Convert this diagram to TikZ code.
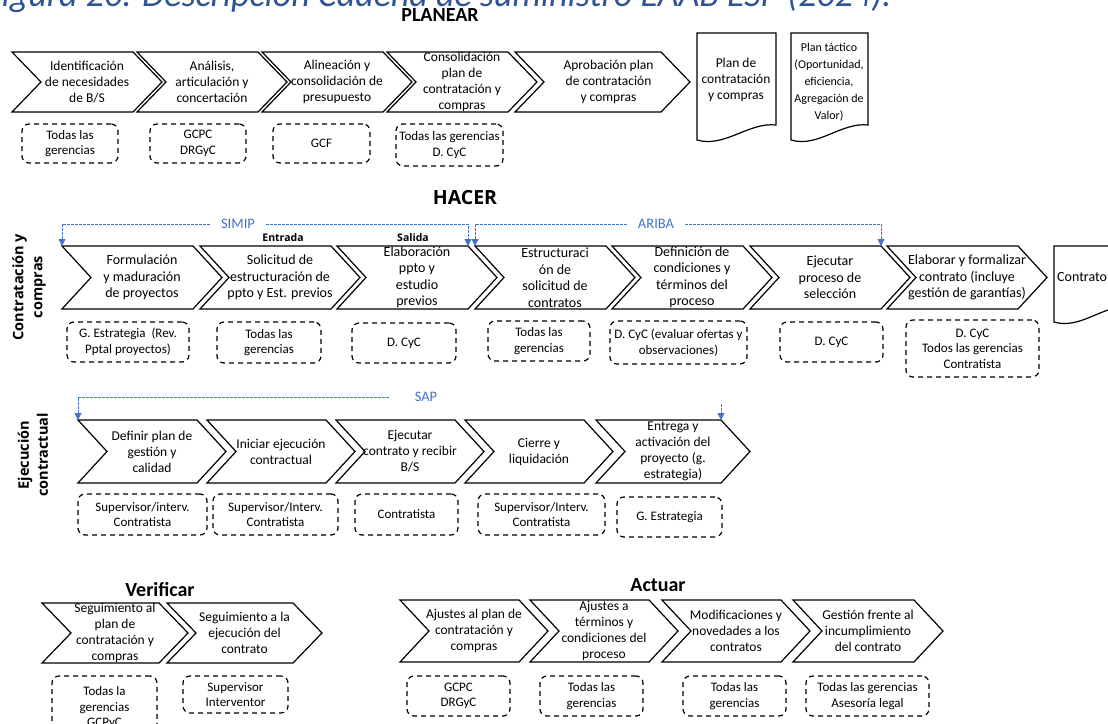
\documentclass[tikz,border=0pt]{standalone}
\usepackage{fontspec}
\setmainfont{Carlito}
\newfontfamily\headfont{Open Sans}
\usetikzlibrary{arrows.meta, positioning}
\definecolor{sysblue}{RGB}{68,114,196}
\definecolor{capblue}{RGB}{47,84,150}
\tikzset{
    chevline/.style={draw=black, line width=1.2pt, fill=white, line join=miter},
    chevtxt/.style={align=center, inner sep=0pt, font=\fontsize{13.5}{16}\selectfont},
    resp/.style={draw=black, line width=1.2pt, dash pattern=on 5pt off 4pt, rounded corners=7pt, align=center, inner sep=0pt, font=\fontsize{13}{15.5}\selectfont},
    doc/.style={draw=black, line width=1.2pt, fill=white},
    sysline/.style={draw=sysblue, line width=0.8pt, dash pattern=on 2.5pt off 1.5pt},
    sysarrow/.style={sysline, -{Triangle[width=7pt,length=7pt]}},
    systxt/.style={text=sysblue, inner xsep=11pt, font=\fontsize{14.5}{17}\selectfont},
    phase/.style={font=\bfseries\fontsize{20}{24}\selectfont},
    hacertxt/.style={font=\headfont\bfseries\fontsize{19.5}{22}\selectfont},
    inout/.style={font=\headfont\bfseries\fontsize{10.5}{12}\selectfont},
    lane/.style={font=\headfont\bfseries\fontsize{14.5}{19}\selectfont, align=center, rotate=90},
    captxt/.style={text=capblue, font=\itshape\fontsize{36}{40}\selectfont}
}
% chevron: name, left, top, width, height, text
\newcommand{\chev}[6]{%
    \draw[chevline] (#2,#3) -- ++(#4-29,0) -- ++(29,#5/2) -- ++(-29,#5/2) -- ++(-#4+29,0) -- ++(29,-#5/2) -- cycle;
    \node[chevtxt] (#1) at ({#2+#4/2},{#3+#5/2}) {#6};
    \coordinate (#1nw) at (#2,#3);
    \coordinate (#1ne) at ({#2+#4-29},#3);
}
% dashed responsible box: name, x1, y1, x2, y2, text
\newcommand{\respbox}[6]{%
    \node[resp, minimum width={(#4-#2)*1pt}, minimum height={(#5-#3)*1pt}] (#1) at ({(#2+#4)/2},{(#3+#5)/2}) {#6};
}
% document shape: left, top, right, bottom
\newcommand{\docshape}[4]{%
    \draw[doc] (#1,#2) -- (#3,#2) -- (#3,#4-15) .. controls ({#3-(#3-#1)*0.35},#4-18) and ({#1+(#3-#1)*0.35},#4+8) .. (#1,#4) -- cycle;
}

\begin{document}
\begin{tikzpicture}[x=1pt, y=-1pt]
    \useasboundingbox (0,0) rectangle (1108,723);
    \clip (0,0) rectangle (1108,723);

    % --- CAPTION AND TITLES ---
    \node[captxt, anchor=base east] (caption) at (895,6) {Figura 20. Descripción Cadena de suministro EAAB ESP (2024).};
    \node[phase, fill=white, inner sep=1pt] (planear) at (440,15) {PLANEAR};
    \node[hacertxt] (hacer) at (465,198) {HACER};
    \node[phase] (verificar) at (160,590) {Verificar};
    \node[phase] (actuar) at (658,585) {Actuar};

    % --- PLANEAR ---
    \chev{pc1}{12}{52}{150}{60}{Identificación\\de necesidades\\de B/S}
    \chev{pc2}{137}{52}{150}{60}{Análisis,\\articulación y\\concertación}
    \chev{pc3}{262}{52}{150}{60}{Alineación y\\consolidación de\\presupuesto}
    \chev{pc4}{387}{52}{150}{60}{Consolidación\\plan de\\contratación y\\compras}
    \chev{pc5}{515}{52}{175}{60}{\hspace*{12pt}Aprobación plan\\\hspace*{12pt}de contratación\\\hspace*{12pt}y compras}

    \docshape{697}{33}{776}{140}
    \node[chevtxt] (plandoc) at (736,80) {Plan de\\contratación\\y compras};
    \docshape{791}{33}{868}{140}
    \node[chevtxt, font=\fontsize{12}{17}\selectfont] (tactdoc) at (829,82) {Plan táctico\\(Oportunidad,\\eficiencia,\\Agregación de\\Valor)};

    \respbox{pb1}{22}{124}{118}{163}{Todas las\\gerencias}
    \respbox{pb2}{150}{124}{246}{163}{GCPC\\DRGyC}
    \respbox{pb3}{273}{124}{370}{163}{GCF}
    \respbox{pb4}{396}{124}{503}{166}{Todas las gerencias\\D. CyC}

    % --- HACER: contratacion y compras ---
    \node[lane] (lanecc) at (29,287) {Contratación y\\compras};
    \begin{scope}[chevtxt/.append style={font=\fontsize{14}{16.5}\selectfont}]
    \chev{hc1}{62}{246}{160}{63}{Formulación\\y maduración\\de proyectos}
    \chev{hc2}{200}{246}{160}{63}{Solicitud de\\estructuración de\\ppto y Est. previos}
    \chev{hc3}{337}{246}{160}{63}{Elaboración\\ppto y\\estudio\\previos}
    \chev{hc4}{475}{246}{160}{63}{Estructuraci\\ón de\\solicitud de\\contratos}
    \chev{hc5}{612}{246}{160}{63}{Definición de\\condiciones y\\términos del\\proceso}
    \chev{hc6}{750}{246}{160}{63}{Ejecutar\\proceso de\\selección}
    \chev{hc7}{887}{246}{160}{63}{Elaborar y formalizar\\contrato (incluye\\gestión de garantías)}
    \docshape{1054}{246}{1130}{322}
    \node[chevtxt, anchor=west] (contrdoc) at (1057,277) {Contrato};
    \end{scope}

    \node[inout] (entrada) at (283,238) {Entrada};
    \node[inout] (salida) at (413,238) {Salida};

    \node[systxt] (simip) at (238,224) {SIMIP};
    \draw[sysarrow] (simip.west) -| (hc1nw);
    \draw[sysarrow] (simip.east) -| (hc3ne);
    \node[systxt] (ariba) at (656,224) {ARIBA};
    \draw[sysarrow] (ariba.west) -| (hc4nw);
    \draw[sysarrow] (ariba.east) -| (hc6ne);

    \respbox{hb1}{67}{322}{189}{362}{G. Estrategia~ (Rev.\\Pptal proyectos)}
    \respbox{hb2}{217}{322}{321}{363}{Todas las\\gerencias}
    \respbox{hb3}{352}{323}{456}{363}{D. CyC}
    \respbox{hb4}{488}{321}{590}{361}{Todas las\\gerencias}
    \respbox{hb5}{610}{321}{747}{364}{D. CyC (evaluar ofertas y\\observaciones)}
    \respbox{hb6}{780}{322}{883}{362}{D. CyC}
    \respbox{hb7}{906}{320}{1039}{377}{D. CyC\\Todos las gerencias\\Contratista}

    % --- HACER: ejecucion contractual ---
    \node[lane] (laneec) at (33,455) {Ejecución\\contractual};
    \chev{rc1}{78}{420}{148}{63}{Definir plan de\\gestión y\\calidad}
    \chev{rc2}{207}{420}{148}{63}{Iniciar ejecución\\contractual}
    \chev{rc3}{336}{420}{148}{63}{Ejecutar\\contrato y recibir\\B/S}
    \chev{rc4}{465}{420}{148}{63}{Cierre y\\liquidación}
    \chev{rc5}{596}{420}{154}{63}{Entrega y\\activación del\\proyecto (g.\\estrategia)}

    \node[systxt] (sap) at (426,397) {SAP};
    \draw[sysarrow] ([xshift=-15pt]sap.west) -| (rc1nw);
    \draw[sysarrow] ([yshift=16pt]rc5ne) -- (rc5ne);

    \respbox{rb1}{78}{494}{207}{535}{Supervisor/interv.\\Contratista}
    \respbox{rb2}{213}{494}{338}{535}{Supervisor/Interv.\\Contratista}
    \respbox{rb3}{355}{494}{458}{535}{Contratista}
    \respbox{rb4}{478}{494}{605}{535}{Supervisor/Interv.\\Contratista}
    \respbox{rb5}{617}{497}{722}{537}{G. Estrategia}

    % --- VERIFICAR ---
    \chev{vc1}{42}{603}{146}{60}{Seguimiento al\\plan de\\contratación y\\compras}
    \chev{vc2}{167}{603}{155}{60}{Seguimiento a la\\ejecución del\\contrato}
    \respbox{vb1}{52}{676}{157}{740}{Todas la\\gerencias\\GCPyC}
    \respbox{vb2}{183}{676}{288}{713}{Supervisor\\Interventor}

    % --- ACTUAR ---
    \chev{ac1}{400}{600}{148}{62}{Ajustes al plan de\\contratación y\\compras}
    \chev{ac2}{530}{600}{148}{62}{Ajustes a\\términos y\\condiciones del\\proceso}
    \chev{ac3}{662}{600}{148}{62}{Modificaciones y\\novedades a los\\contratos}
    \chev{ac4}{793}{600}{150}{62}{Gestión frente al\\incumplimiento\\del contrato}
    \respbox{ab1}{407}{676}{510}{716}{GCPC\\DRGyC}
    \respbox{ab2}{540}{676}{643}{716}{Todas las\\gerencias}
    \respbox{ab3}{683}{676}{786}{716}{Todas las\\gerencias}
    \respbox{ab4}{806}{676}{929}{716}{Todas las gerencias\\Asesoría legal}
\end{tikzpicture}
\end{document}
